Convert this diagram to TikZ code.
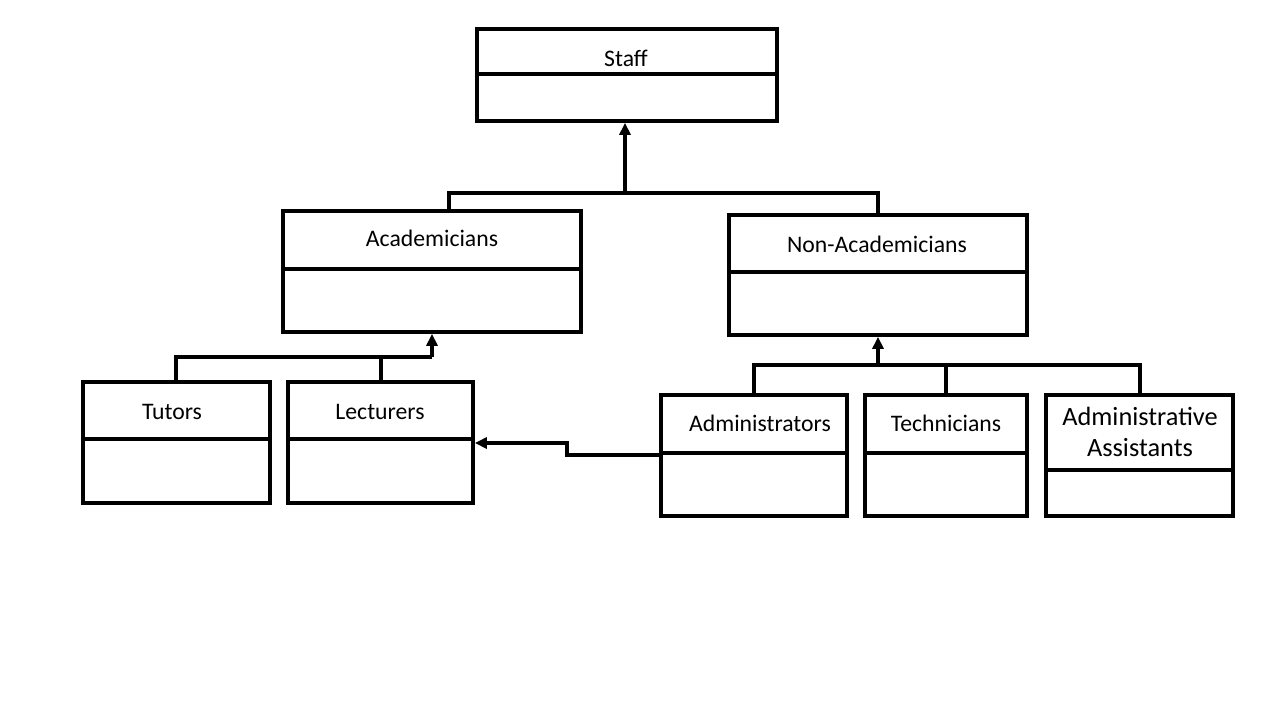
\documentclass[tikz,border=0pt]{standalone}
\usepackage{fontspec}
\setmainfont{Carlito}
\usetikzlibrary{fit,arrows.meta}
\begin{document}
\begin{tikzpicture}[x=0.02cm,y=-0.02cm,
  box/.style={draw=black,line width=2.1pt,inner sep=0pt},
  conn/.style={draw=black,line width=2.1pt},
  arr/.style={conn,-{Triangle[length=0.24cm,width=0.22cm]}},
  lbl/.style={font=\fontsize{13.5}{16}\selectfont,inner sep=0pt},
  lblbig/.style={font=\fontsize{15}{18}\selectfont,inner sep=0pt,align=center}]
\useasboundingbox (0,0) rectangle (1280,720);
\fill[white] (0,0) rectangle (1280,720);
% boxes
\node[box,fit={(477,29) (777,121)}] (staff) {};
\draw[conn] (staff.west |- 0,74) -- (staff.east |- 0,74);
\node[lbl] (tstaff) at (626,58) {Staff};

\node[box,fit={(283,211) (581,332)}] (acad) {};
\draw[conn] (acad.west |- 0,269) -- (acad.east |- 0,269);
\node[lbl] (tacad) at (432,238) {Academicians};

\node[box,fit={(729,215) (1027,335)}] (nonac) {};
\draw[conn] (nonac.west |- 0,272) -- (nonac.east |- 0,272);
\node[lbl] (tnonac) at (877,244) {Non-Academicians};

\node[box,fit={(83,382) (270,503)}] (tut) {};
\draw[conn] (tut.west |- 0,439) -- (tut.east |- 0,439);
\node[lbl] (ttut) at (172,412) {Tutors};

\node[box,fit={(288,382) (473,503)}] (lect) {};
\draw[conn] (lect.west |- 0,439) -- (lect.east |- 0,439);
\node[lbl] (tlect) at (380,412) {Lecturers};

\node[box,fit={(661,395) (847,516)}] (admin) {};
\draw[conn] (admin.west |- 0,453) -- (admin.east |- 0,453);
\node[lbl] (tadmin) at (760,423) {Administrators};

\node[box,fit={(865,395) (1027,516)}] (tech) {};
\draw[conn] (tech.west |- 0,453) -- (tech.east |- 0,453);
\node[lbl] (ttech) at (946,423) {Technicians};

\node[box,fit={(1046,395) (1233,516)}] (aa) {};
\draw[conn] (aa.west |- 0,470) -- (aa.east |- 0,470);
\node[lblbig] (taa) at (1140,432) {Administrative\\Assistants};

% connectors
\coordinate (b1) at (625,193);
\draw[arr] (b1) -- (staff.south -| b1);
\draw[conn] (acad.north -| 449,0) |- (b1) -| (nonac.north);

\coordinate (b2) at (432,357);
\draw[arr] (b2) -- (acad.south -| b2);
\draw[conn] (tut.north -| 176,0) |- (b2);
\draw[conn] (lect.north -| 381,0) -- (381,357);

\coordinate (b3) at (878,365);
\draw[arr] (b3) -- (nonac.south -| b3);
\draw[conn] (admin.north -| 754,0) |- (b3) -| (aa.north -| 1140,0);
\draw[conn] (tech.north -| 946,0) -- (946,365);

\draw[arr] (admin.west |- 0,455) -- (567,455) -- (567,443) -- (lect.east |- 0,443);
\end{tikzpicture}
\end{document}
